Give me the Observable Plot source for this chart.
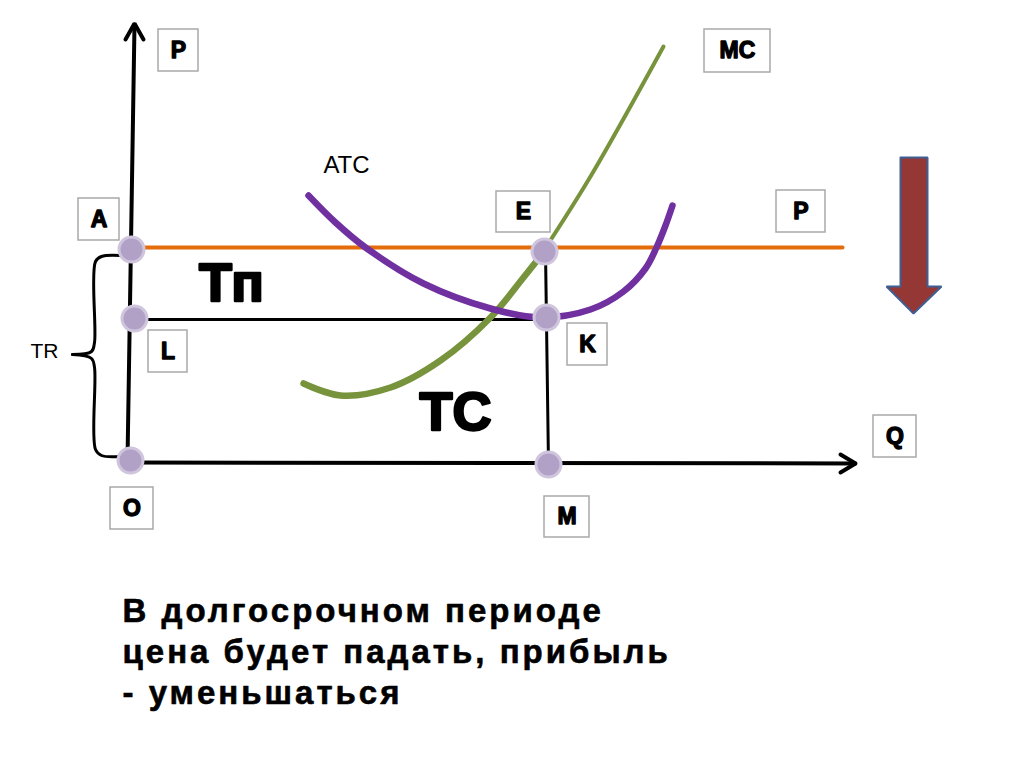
<!DOCTYPE html>
<html>
<head>
<meta charset="utf-8">
<script src="https://cdn.jsdelivr.net/npm/d3@7"></script>
<script src="https://cdn.jsdelivr.net/npm/@observablehq/plot@0.6"></script>
<style>
  html, body { margin: 0; padding: 0; background: #fff; }
  svg { display: block; }
</style>
</head>
<body>
<div id="chart"></div>
<script>
// Diagram coordinates: q = horizontal position, p = vertical position (from top)
const boxLabels = ["P", "A", "L", "O", "E", "K", "M", "MC", "P", "Q"];
const boxLeft   = [158, 78, 148, 110, 496, 567, 544, 704, 776, 873];
const boxRight  = [198, 119, 187, 153, 550, 607, 589, 770, 825, 916];
const boxTop    = [29, 198, 330, 487, 191, 323, 496, 29, 190, 415];
const boxBottom = [71, 240, 372, 529, 232, 365, 537, 72, 232, 457];

const pointNames = ["A", "L", "O", "E", "K", "M"];
const pointQ = [131, 134, 130, 544, 546, 548];
const pointP = [249, 318, 460, 251, 317, 464];

const atcQ = [308, 335, 365, 423, 490, 540, 590, 623, 645, 656, 665, 672];
const atcP = [195, 222, 247, 283, 308, 317, 309, 291, 268, 247, 225, 205];

const mcLowQ = [303, 340, 390, 440, 490, 523, 546];
const mcLowP = [383, 395, 387, 360, 317, 277, 248];
const mcHighQ = [542, 590, 663];
const mcHighP = [252, 176, 46];

const axisYQ = [127, 134]; const axisYP = [460, 24];
const axisXQ = [130, 855]; const axisXP = [462, 463];
const arrowYQ = [125, 134, 143]; const arrowYP = [39, 23, 39];
const arrowXQ = [840, 855, 840]; const arrowXP = [454, 463, 472];

const priceQ = [131, 842]; const priceP = [247, 247];
const costQ = [134, 546]; const costP = [319, 319];
const quantQ = [545, 548]; const quantP = [251, 464];

const braceTopQ = [120, 101, 95, 94, 91, 72];
const braceTopP = [255, 256, 261, 342, 351, 354];
const braceBotQ = [72, 91, 94, 95, 101, 120];
const braceBotP = [354, 358, 367, 449, 455, 456];

const downArrowQ = [900, 927, 927, 941, 913, 886, 900, 900];
const downArrowP = [157, 157, 286, 286, 313, 286, 286, 157];

const textLabels = ["ATC", "Тп", "TC", "TR"];
const textQ = [346, 231, 455, 44];
const textP = [165, 283, 412, 351];

const caption = "В долгосрочном периоде\nцена будет падать, прибыль\n- уменьшаться";

const zip = (qs, ps) => qs.map((q, i) => ({q, p: ps[i]}));
const boxes = boxLabels.map((t, i) => ({t, x1: boxLeft[i], x2: boxRight[i], y1: boxTop[i], y2: boxBottom[i]}));
const points = pointNames.map((n, i) => ({n, q: pointQ[i], p: pointP[i]}));
const texts = textLabels.map((t, i) => ({t, q: textQ[i], p: textP[i]}));

const font = "'Liberation Sans', Arial, sans-serif";

const chart = Plot.plot({
  width: 1024,
  height: 767,
  margin: 0,
  style: {fontFamily: font, background: "#fff"},
  x: {domain: [0, 1024], axis: null},
  y: {domain: [767, 0], axis: null},
  marks: [
    // label boxes
    Plot.rect(boxes, {x1: "x1", x2: "x2", y1: "y1", y2: "y2", fill: "white", stroke: "#a9a9a9", strokeWidth: 1.5}),
    Plot.text(boxes, {x: d => (d.x1 + d.x2) / 2, y: d => (d.y1 + d.y2) / 2, text: "t", fontSize: 23, fontWeight: "bold", fill: "black", stroke: "black", strokeWidth: 1.3}),
    // axes
    Plot.line(zip(axisYQ, axisYP), {x: "q", y: "p", stroke: "black", strokeWidth: 4}),
    Plot.line(zip(arrowYQ, arrowYP), {x: "q", y: "p", stroke: "black", strokeWidth: 4, strokeLinejoin: "miter"}),
    Plot.line(zip(axisXQ, axisXP), {x: "q", y: "p", stroke: "black", strokeWidth: 4}),
    Plot.line(zip(arrowXQ, arrowXP), {x: "q", y: "p", stroke: "black", strokeWidth: 4, strokeLinejoin: "miter"}),
    // brace
    Plot.line(zip(braceTopQ, braceTopP), {x: "q", y: "p", stroke: "black", strokeWidth: 3, curve: "catmull-rom"}),
    Plot.line(zip(braceBotQ, braceBotP), {x: "q", y: "p", stroke: "black", strokeWidth: 3, curve: "catmull-rom"}),
    // price line and rectangles
    Plot.line(zip(priceQ, priceP), {x: "q", y: "p", stroke: "#E46C0A", strokeWidth: 4}),
    Plot.line(zip(costQ, costP), {x: "q", y: "p", stroke: "black", strokeWidth: 3}),
    Plot.line(zip(quantQ, quantP), {x: "q", y: "p", stroke: "black", strokeWidth: 3}),
    // curves
    Plot.line(zip(mcHighQ, mcHighP), {x: "q", y: "p", stroke: "#77933C", strokeWidth: 4, curve: "catmull-rom"}),
    Plot.line(zip(mcLowQ, mcLowP), {x: "q", y: "p", stroke: "#77933C", strokeWidth: 6.5, curve: "catmull-rom"}),
    Plot.line(zip(atcQ, atcP), {x: "q", y: "p", stroke: "#7030A0", strokeWidth: 6.5, curve: "catmull-rom"}),
    // points
    Plot.dot(points, {x: "q", y: "p", r: 12.5, fill: "#B2A1C7", stroke: "#CFC5DD", strokeWidth: 3}),
    // free text
    Plot.text(texts.slice(0, 1), {x: "q", y: "p", text: "t", fontSize: 24, fill: "black"}),
    Plot.text(texts.slice(1, 3), {x: "q", y: "p", text: "t", fontSize: 54, fontWeight: "bold", fill: "black", stroke: "black", strokeWidth: 2.5}),
    Plot.text(texts.slice(3), {x: "q", y: "p", text: "t", fontSize: 21, fill: "black"}),
    // red down arrow
    Plot.line(zip(downArrowQ, downArrowP), {x: "q", y: "p", fill: "#953735", stroke: "#3F5F93", strokeWidth: 2, strokeLinejoin: "miter"}),
    // caption
    Plot.text([caption], {x: 122, y: 592, text: d => d, textAnchor: "start", lineAnchor: "top", fontSize: 33, fontWeight: "bold", lineHeight: 1.25, fill: "black", stroke: "black", strokeWidth: 0.6})
  ]
});
d3.select(chart).selectAll("text")
  .filter(function() { return this.textContent.startsWith("В"); })
  .style("letter-spacing", "3px");
document.getElementById("chart").appendChild(chart);
</script>
</body>
</html>
